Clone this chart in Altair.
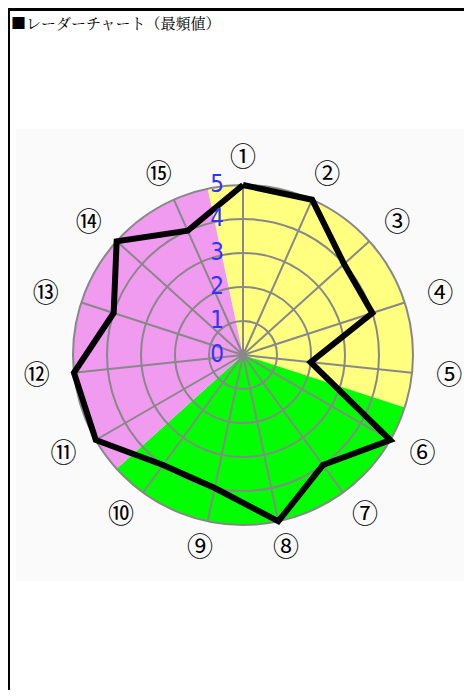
import math
import altair as alt
import pandas as pd

# ---- data ----
TITLE = "■レーダーチャート（最頻値）"
ITEMS = ["①", "②", "③", "④", "⑤", "⑥", "⑦", "⑧", "⑨", "⑩", "⑪", "⑫", "⑬", "⑭", "⑮"]
VALUES = [5, 5, 4, 4, 2, 5, 4, 5, 4, 4, 5, 5, 4, 5, 4]
TICKS = [0, 1, 2, 3, 4, 5]
GROUPS = ["A", "B", "C"]
GROUP_COLORS = ["#ffff80", "#00ff00", "#f09af0"]
GROUP_SIZE = 5
VMAX = 5

# ---- geometry / layout ----
W, H = 456, 682
CX, CY = 235, 347          # center in plot coords
PPU = 34                   # pixels per value unit
N = len(ITEMS)
STEP = 360 / N

xs = alt.Scale(domain=[-CX / PPU, (W - CX) / PPU], nice=False, zero=False)
ys = alt.Scale(domain=[-(H - CY) / PPU, CY / PPU], nice=False, zero=False)
th_scale = alt.Scale(domain=[0, 360], range=[0, 2 * math.pi])
r_scale = alt.Scale(type="linear", domain=[0, VMAX], range=[0, VMAX * PPU], zero=True)

angles = [i * STEP for i in range(N)]

sect_df = pd.DataFrame({
    "g": GROUPS,
    "start": [(k * GROUP_SIZE - 0.5) * STEP for k in range(len(GROUPS))],
    "end": [((k + 1) * GROUP_SIZE - 0.5) * STEP for k in range(len(GROUPS))],
    "r": [VMAX] * len(GROUPS),
    "cx": [0] * len(GROUPS),
    "cy": [0] * len(GROUPS),
})

grid_df = pd.DataFrame({
    "r": TICKS[1:],
    "t0": [0] * (len(TICKS) - 1),
    "t1": [360] * (len(TICKS) - 1),
    "cx": [0] * (len(TICKS) - 1),
    "cy": [0] * (len(TICKS) - 1),
})

spoke_df = pd.DataFrame({
    "x": [0] * N, "y": [0] * N,
    "x2": [VMAX * math.sin(math.radians(a)) for a in angles],
    "y2": [VMAX * math.cos(math.radians(a)) for a in angles],
})

poly_df = pd.DataFrame({
    "i": list(range(N + 1)),
    "x": [VALUES[i % N] * math.sin(math.radians(angles[i % N])) for i in range(N + 1)],
    "y": [VALUES[i % N] * math.cos(math.radians(angles[i % N])) for i in range(N + 1)],
})

LX, LY = 6.1, 5.8
lab_df = pd.DataFrame({
    "t": ITEMS,
    "x": [LX * math.sin(math.radians(a)) for a in angles],
    "y": [LY * math.cos(math.radians(a)) for a in angles],
})

tick_df = pd.DataFrame({"v": TICKS, "t": [str(t) for t in TICKS], "x": [-0.76] * len(TICKS)})

one = pd.DataFrame({"a": [0]})

bg = alt.Chart(one).mark_rect(color="#fafafa").encode(
    x=alt.value(8), x2=alt.value(W), y=alt.value(121), y2=alt.value(573))

sectors = alt.Chart(sect_df).mark_arc(strokeWidth=0).encode(
    x=alt.X("cx:Q", scale=xs, axis=None),
    y=alt.Y("cy:Q", scale=ys, axis=None),
    theta=alt.Theta("start:Q", scale=th_scale, stack=False),
    theta2="end:Q",
    radius=alt.Radius("r:Q", scale=r_scale),
    color=alt.Color("g:N", scale=alt.Scale(domain=GROUPS, range=GROUP_COLORS), legend=None),
)

grid = alt.Chart(grid_df).mark_arc(filled=False, stroke="#888888", strokeWidth=2).encode(
    x=alt.X("cx:Q", scale=xs, axis=None),
    y=alt.Y("cy:Q", scale=ys, axis=None),
    theta=alt.Theta("t0:Q", scale=th_scale, stack=False),
    theta2="t1:Q",
    radius=alt.Radius("r:Q", scale=r_scale),
)

spokes = alt.Chart(spoke_df).mark_rule(color="#888888", strokeWidth=2).encode(
    x=alt.X("x:Q", scale=xs, axis=None), y=alt.Y("y:Q", scale=ys, axis=None),
    x2="x2:Q", y2="y2:Q")

poly = alt.Chart(poly_df).mark_line(color="black", strokeWidth=6, strokeJoin="miter").encode(
    x=alt.X("x:Q", scale=xs, axis=None), y=alt.Y("y:Q", scale=ys, axis=None),
    order="i:Q")

vlabels = alt.Chart(tick_df).mark_text(
    font="Liberation Sans Narrow, DejaVu Sans Condensed, sans-serif",
    fontSize=24, color="#3333ff", align="center", baseline="middle").encode(
    x=alt.X("x:Q", scale=xs, axis=None), y=alt.Y("v:Q", scale=ys, axis=None), text="t:N")

ilabels = alt.Chart(lab_df).mark_text(
    font="Noto Sans CJK JP", fontSize=26, color="black", align="center", baseline="middle").encode(
    x=alt.X("x:Q", scale=xs, axis=None), y=alt.Y("y:Q", scale=ys, axis=None), text="t:N")

title = alt.Chart(pd.DataFrame({"t": [TITLE]})).mark_text(
    font="Noto Serif CJK JP, Noto Sans CJK JP", fontSize=15, color="black", align="left", baseline="middle").encode(
    x=alt.value(3), y=alt.value(16), text="t:N")

top_border = alt.Chart(one).mark_rule(color="black", strokeWidth=3).encode(
    x=alt.value(0), x2=alt.value(W), y=alt.value(1.5))
left_border = alt.Chart(one).mark_rule(color="black", strokeWidth=2).encode(
    x=alt.value(1), y=alt.value(0), y2=alt.value(H))

chart = alt.layer(
    bg, sectors, grid, spokes, poly, vlabels, ilabels, title, top_border, left_border
).properties(
    width=W, height=H, padding=0, autosize=alt.AutoSizeParams(type="none")
).configure_view(strokeWidth=0)

chart.save("out.html", embed_options={"renderer": "svg", "actions": False})
